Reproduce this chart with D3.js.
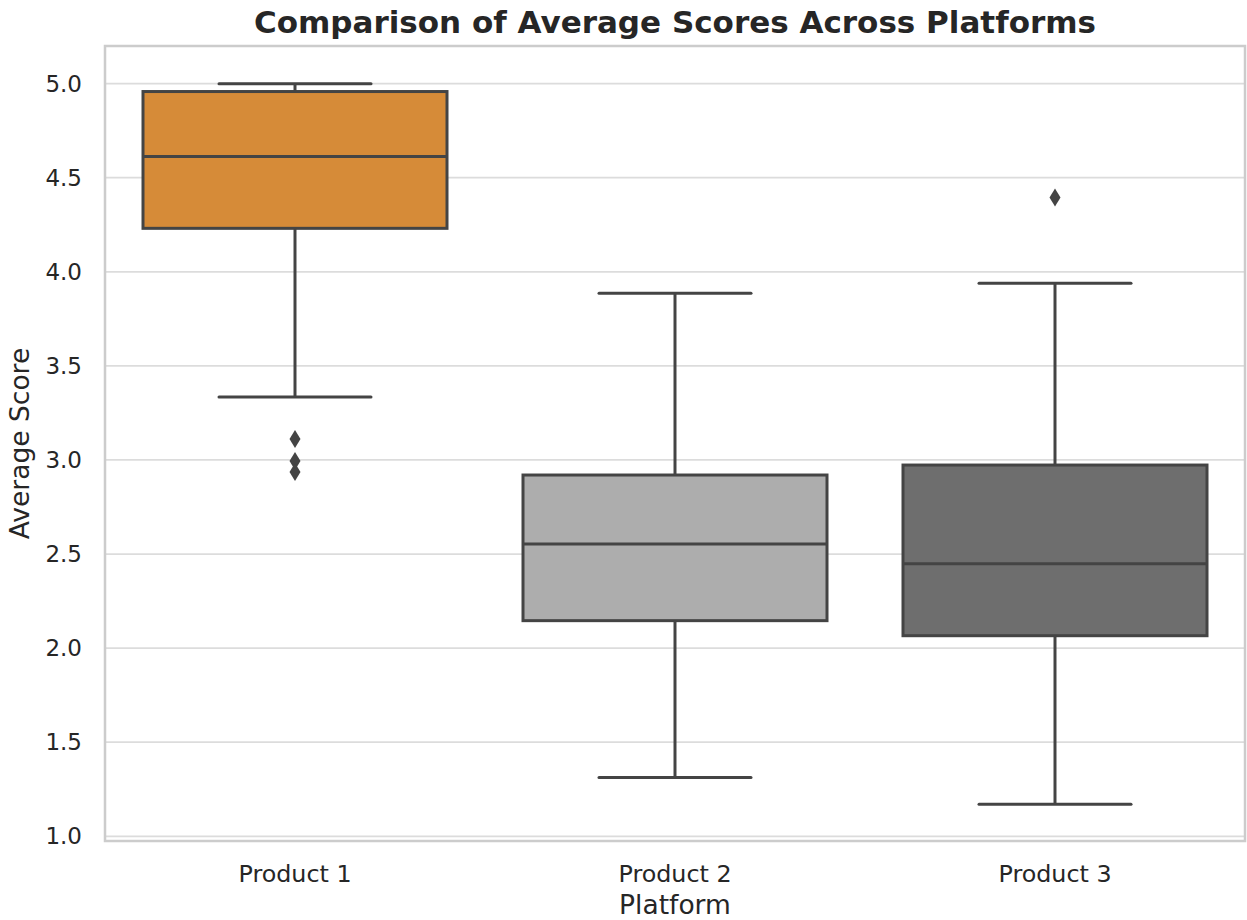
<!DOCTYPE html>
<html>
<head>
<meta charset="utf-8">
<script src="https://cdn.jsdelivr.net/npm/d3@7"></script>
<style>
  html, body { margin: 0; padding: 0; background: #fff; }
  svg { display: block; }
  svg text { font-family: "DejaVu Sans", sans-serif; }
</style>
</head>
<body>
<svg id="chart" width="1247" height="920"></svg>
<script>
// Box summaries per platform
const categories = ["Product 1", "Product 2", "Product 3"];
const whiskerLow  = [3.334, 1.313, 1.170];
const q1          = [4.231, 2.146, 2.066];
const medians     = [4.613, 2.554, 2.448];
const q3          = [4.958, 2.920, 2.973];
const whiskerHigh = [5.000, 3.886, 3.939];
const outliers    = [[3.111, 2.995, 2.936], [], [4.395]];
const fills       = ["#d68b38", "#adadad", "#6e6e6e"];
const yTicks      = [1.0, 1.5, 2.0, 2.5, 3.0, 3.5, 4.0, 4.5, 5.0];

const svg = d3.select("#chart");
const margin = { left: 105, right: 2, top: 46, bottom: 79 };
const W = 1247, H = 920;
const plotW = W - margin.left - margin.right;
const plotH = H - margin.top - margin.bottom;

const x = d3.scaleBand().domain(categories).range([0, plotW]).paddingInner(0).paddingOuter(0);
const y = d3.scaleLinear().domain([0.975, 5.2]).range([plotH, 0]);

const g = svg.append("g").attr("transform", `translate(${margin.left},${margin.top})`);

// grid lines
g.append("g")
  .selectAll("line")
  .data(yTicks)
  .join("line")
  .attr("x1", 0).attr("x2", plotW)
  .attr("y1", d => y(d)).attr("y2", d => y(d))
  .attr("stroke", "#dcdcdc").attr("stroke-width", 1.8);

// frame
g.append("rect")
  .attr("x", 0).attr("y", 0).attr("width", plotW).attr("height", plotH)
  .attr("fill", "none").attr("stroke", "#cccccc").attr("stroke-width", 2.5);

// y axis
const yAxis = g.append("g")
  .call(d3.axisLeft(y).tickValues(yTicks).tickFormat(d3.format(".1f")).tickSize(0).tickPadding(23));
yAxis.attr("font-family", null).attr("font-size", null);
yAxis.select(".domain").remove();
yAxis.selectAll("text").attr("fill", "#262626").style("font-size", "23px");

// x axis
const xAxis = g.append("g")
  .attr("transform", `translate(0,${plotH})`)
  .call(d3.axisBottom(x).tickSize(0).tickPadding(24));
xAxis.attr("font-family", null).attr("font-size", null);
xAxis.select(".domain").remove();
xAxis.selectAll("text").attr("fill", "#262626").style("font-size", "23.8px");

const lineColor = "#444444";
const lw = 3;
const boxW = x.bandwidth() * 0.8;
const capW = boxW * 0.5;

const boxes = g.append("g")
  .selectAll("g")
  .data(categories.map((c, i) => ({ c, i })))
  .join("g")
  .attr("transform", d => `translate(${x(d.c) + x.bandwidth() / 2},0)`);

// whiskers
boxes.append("line")
  .attr("x1", 0).attr("x2", 0)
  .attr("y1", d => y(q3[d.i])).attr("y2", d => y(whiskerHigh[d.i]))
  .attr("stroke", lineColor).attr("stroke-width", lw);
boxes.append("line")
  .attr("x1", 0).attr("x2", 0)
  .attr("y1", d => y(q1[d.i])).attr("y2", d => y(whiskerLow[d.i]))
  .attr("stroke", lineColor).attr("stroke-width", lw);
// caps
boxes.append("line")
  .attr("x1", -capW / 2).attr("x2", capW / 2)
  .attr("y1", d => y(whiskerHigh[d.i])).attr("y2", d => y(whiskerHigh[d.i]))
  .attr("stroke", lineColor).attr("stroke-width", lw).attr("stroke-linecap", "round");
boxes.append("line")
  .attr("x1", -capW / 2).attr("x2", capW / 2)
  .attr("y1", d => y(whiskerLow[d.i])).attr("y2", d => y(whiskerLow[d.i]))
  .attr("stroke", lineColor).attr("stroke-width", lw).attr("stroke-linecap", "round");
// box
boxes.append("rect")
  .attr("x", -boxW / 2).attr("width", boxW)
  .attr("y", d => y(q3[d.i]))
  .attr("height", d => y(q1[d.i]) - y(q3[d.i]))
  .attr("fill", d => fills[d.i])
  .attr("stroke", lineColor).attr("stroke-width", lw);
// median
boxes.append("line")
  .attr("x1", -boxW / 2).attr("x2", boxW / 2)
  .attr("y1", d => y(medians[d.i])).attr("y2", d => y(medians[d.i]))
  .attr("stroke", lineColor).attr("stroke-width", lw);
// outliers (diamonds)
boxes.selectAll("path.flier")
  .data(d => outliers[d.i])
  .join("path")
  .attr("class", "flier")
  .attr("d", "M0,-9L5.5,0L0,9L-5.5,0Z")
  .attr("transform", v => `translate(0,${y(v)})`)
  .attr("fill", lineColor);

// title and axis labels
svg.append("text")
  .attr("x", margin.left + plotW / 2).attr("y", 33)
  .attr("text-anchor", "middle")
  .attr("fill", "#262626")
  .style("font-size", "31px").style("font-weight", "bold")
  .text("Comparison of Average Scores Across Platforms");

svg.append("text")
  .attr("x", margin.left + plotW / 2).attr("y", 914)
  .attr("text-anchor", "middle")
  .attr("fill", "#262626")
  .style("font-size", "26.5px")
  .text("Platform");

svg.append("text")
  .attr("transform", `translate(29,${margin.top + plotH / 2}) rotate(-90)`)
  .attr("text-anchor", "middle")
  .attr("fill", "#262626")
  .style("font-size", "26.5px")
  .text("Average Score");
</script>
</body>
</html>
